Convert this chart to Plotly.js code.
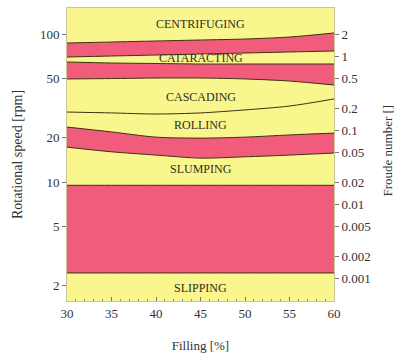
<!DOCTYPE html>
<html>
<head>
<meta charset="utf-8">
<script src="https://cdn.plot.ly/plotly-3.0.1.min.js"></script>
<style>html,body{margin:0;padding:0;background:#fff;}#chart{width:397px;height:353px;}</style>
</head>
<body>
<div id="chart"></div>
<script>
// Filling degree [%]
const filling = [30, 35, 40, 45, 50, 55, 60];
// Boundaries (rotational speed, rpm)
const centrifugingLower = [86.9, 88.3, 89.7, 91.1, 92.5, 95.4, 101.6];
const cataractingUpper = [69.9, 71.0, 72.1, 73.3, 74.4, 75.6, 76.8];
const cataractingLower = [64.7, 63.7, 63.2, 62.7, 62.7, 62.7, 62.7];
const cascadingUpper = [49.7, 50.0, 50.4, 50.4, 49.7, 48.1, 45.2];
const cascadingRollingLine = [29.7, 29.3, 28.8, 29.3, 30.7, 32.6, 36.4];
const rollingLower = [23.5, 21.8, 20.1, 19.8, 20.1, 20.8, 21.4];
const slumpingUpper = [17.2, 16.0, 15.2, 14.5, 14.8, 15.2, 15.7];
const slumpingLower = [9.5, 9.5, 9.5, 9.5, 9.5, 9.5, 9.5];
const slippingUpper = [2.43, 2.43, 2.43, 2.43, 2.43, 2.43, 2.43];

// Regime labels
const regimeNames = ['CENTRIFUGING', 'CATARACTING', 'CASCADING', 'ROLLING', 'SLUMPING', 'SLIPPING'];
const regimeLabelX = [45, 45, 45, 45, 45, 45];
const regimeLabelY = [117, 68.8, 37.5, 24.3, 12.2, 1.92];

// Axis ticks
const xTicks = [30, 35, 40, 45, 50, 55, 60];
const speedTicks = [2, 5, 10, 20, 50, 100];
const speedTickText = ['2', '5', '10', '20', '50', '100'];
const froudeTicks = [2, 1, 0.5, 0.2, 0.1, 0.05, 0.02, 0.01, 0.005, 0.002, 0.001];
const froudeTickText = ['2', '1', '0.5', '0.2', '0.1', '0.05', '0.02', '0.01', '0.005', '0.002', '0.001'];
// Froude number: Fr = 2 at 100 rpm, Fr proportional to n^2
const froudeAt100 = 2;

const speedRange = [0.196, 2.1757];
const froudeRange = speedRange.map(v => 2 * v + Math.log10(froudeAt100) - 4);

const YELLOW = '#f9f68e';
const RED = '#f25c7c';
const EDGE = '#3b3110';
const FONT = '"Liberation Serif"';

function edge(y, fill) {
  const t = {
    x: filling, y: y, type: 'scatter', mode: 'lines',
    line: {color: EDGE, width: 1, shape: 'spline', smoothing: 0.8},
    hoverinfo: 'skip', showlegend: false
  };
  if (fill) { t.fill = 'tonexty'; t.fillcolor = RED; }
  return t;
}

const traces = [
  edge(centrifugingLower, false), edge(cataractingUpper, true),
  edge(cataractingLower, false), edge(cascadingUpper, true),
  edge(cascadingRollingLine, false),
  edge(rollingLower, false), edge(slumpingUpper, true),
  edge(slumpingLower, false), edge(slippingUpper, true),
  {x: [filling[0]], y: [1], yaxis: 'y2', type: 'scatter', mode: 'markers',
   marker: {opacity: 0}, hoverinfo: 'skip', showlegend: false}
];

const annotations = regimeNames.map((n, i) => ({
  x: regimeLabelX[i], y: Math.log10(regimeLabelY[i]), xref: 'x', yref: 'y',
  text: n, showarrow: false, font: {family: FONT, size: 12, color: '#2e2e1e'}
}));
annotations.push({
  xref: 'paper', yref: 'paper', x: 1.2, y: 0.515, textangle: -90,
  text: 'Froude number []', showarrow: false, xanchor: 'center', yanchor: 'middle',
  font: {family: FONT, size: 13, color: '#333'}
});

const tickFont = {family: FONT, size: 13, color: '#333'};

const layout = {
  width: 397, height: 353,
  margin: {l: 67, r: 63, t: 8, b: 52},
  paper_bgcolor: '#ffffff', plot_bgcolor: YELLOW,
  showlegend: false,
  font: {family: FONT},
  xaxis: {
    range: [30, 60], tickvals: xTicks, ticks: 'inside', ticklen: 4, tickcolor: '#777',
    minor: {ticks: 'inside', dtick: 1, ticklen: 2, tickcolor: '#888'},
    showgrid: false, zeroline: false, showline: true, mirror: true, linecolor: '#c9c79a', linewidth: 1,
    tickfont: tickFont,
    title: {text: 'Filling [%]', font: {family: FONT, size: 13, color: '#333'}, standoff: 22}
  },
  yaxis: {
    type: 'log', range: speedRange, tickvals: speedTicks, ticktext: speedTickText,
    ticks: 'outside', ticklen: 4, tickcolor: '#777',
    showgrid: false, zeroline: false, showline: true, mirror: false, linecolor: '#c9c79a', linewidth: 1,
    tickfont: tickFont,
    title: {text: 'Rotational speed [rpm]', font: {family: FONT, size: 14, color: '#333'}, standoff: 14}
  },
  yaxis2: {
    type: 'log', overlaying: 'y', side: 'right', range: froudeRange,
    tickvals: froudeTicks, ticktext: froudeTickText,
    ticks: 'outside', ticklen: 4, tickcolor: '#777',
    showgrid: false, zeroline: false, showline: true, linecolor: '#c9c79a', linewidth: 1,
    tickfont: tickFont
  },
  annotations: annotations
};

Plotly.newPlot('chart', traces, layout, {displayModeBar: false, staticPlot: true});
</script>
</body>
</html>
